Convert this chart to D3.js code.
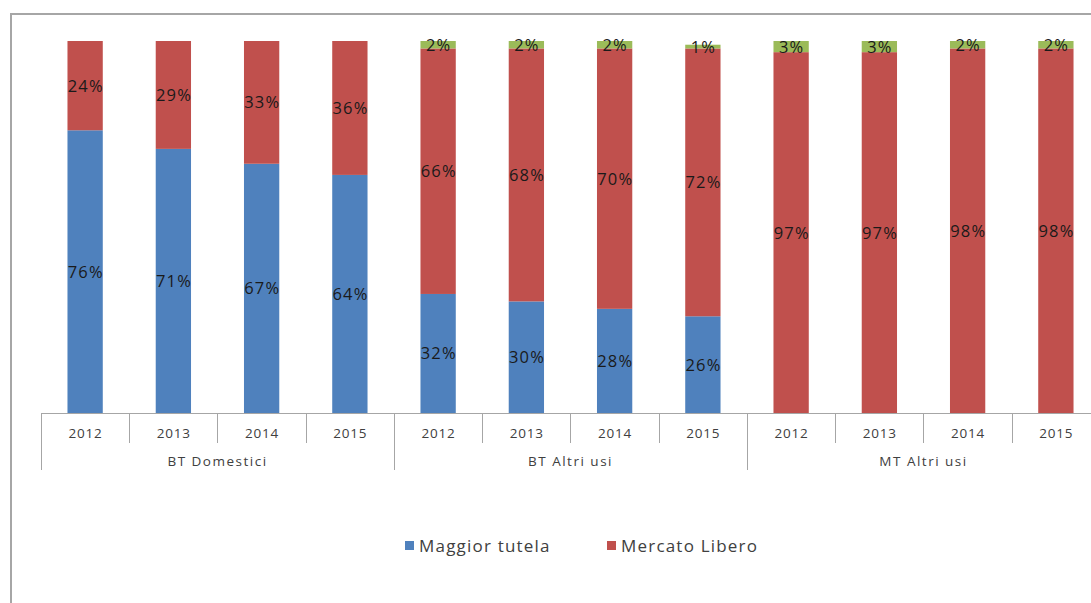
<!DOCTYPE html>
<html>
<head>
<meta charset="utf-8">
<script src="https://cdn.jsdelivr.net/npm/d3@7/dist/d3.min.js"></script>
<style>
  html, body { margin: 0; padding: 0; background: #fff; }
  svg { display: block; font-family: "Open Sans", "Noto Sans", sans-serif; }
</style>
</head>
<body>
<svg id="chart" width="1091" height="603"></svg>
<script>
// Market share by customer segment and year (percent)
const groups = ["BT Domestici", "BT Altri usi", "MT Altri usi"];
const years = ["2012", "2013", "2014", "2015"];
const maggiorTutela = [76, 71, 67, 64, 32, 30, 28, 26, 0, 0, 0, 0];
const mercatoLibero = [24, 29, 33, 36, 66, 68, 70, 72, 97, 97, 98, 98];
const altro = [0, 0, 0, 0, 2, 2, 2, 1, 3, 3, 2, 2];
const seriesNames = ["Maggior tutela", "Mercato Libero", "Altro"];
const legendNames = ["Maggior tutela", "Mercato Libero"];
const colors = ["#4f81bd", "#c0504d", "#9bbb59"];

const rows = [];
groups.forEach((g, gi) => years.forEach((yr, yi) => {
  const i = gi * years.length + yi;
  rows.push({ key: g + "|" + yr, group: g, year: yr,
    "Maggior tutela": maggiorTutela[i], "Mercato Libero": mercatoLibero[i], "Altro": altro[i] });
}));

const svg = d3.select("#chart");
const plotLeft = 41, plotTop = 41, plotBottom = 413;
const x = d3.scaleBand().domain(rows.map(d => d.key))
  .range([plotLeft, plotLeft + 12 * 88.25]).paddingInner(0.6).paddingOuter(0.3);
const y = d3.scaleLinear().domain([0, 100]).range([plotBottom, plotTop]);
const step = x.step();

// outer frame
svg.append("path").attr("d", "M11,603 L11,14 L1091,14")
  .attr("fill", "none").attr("stroke", "#a6a6a6").attr("stroke-width", 2);

const stack = d3.stack().keys(seriesNames)(rows);

const layers = svg.append("g").selectAll("g").data(stack).join("g")
  .attr("fill", (d, i) => colors[i]);
layers.selectAll("rect").data(d => d.filter(s => s[1] > s[0])).join("rect")
  .attr("x", d => x(d.data.key))
  .attr("width", x.bandwidth())
  .attr("y", d => y(d[1]))
  .attr("height", d => y(d[0]) - y(d[1]));

// value labels centred in each segment
const labels = svg.append("g").attr("font-size", 16.5).attr("fill", "#1a1a1a")
  .attr("letter-spacing", 1.2).attr("text-anchor", "middle");
stack.forEach(layer => {
  layer.filter(s => s[1] > s[0]).forEach(s => {
    const v = s[1] - s[0];
    labels.append("text")
      .attr("x", x(s.data.key) + x.bandwidth() / 2 + 0.6)
      .attr("y", (y(s[0]) + y(s[1])) / 2)
      .attr("dy", "0.36em")
      .text(v + "%");
  });
});

// category axis
const axis = svg.append("g").attr("stroke", "#a6a6a6").attr("stroke-width", 1);
axis.append("line").attr("x1", plotLeft).attr("x2", 1091)
  .attr("y1", plotBottom + 0.5).attr("y2", plotBottom + 0.5);
rows.forEach((d, i) => {
  const bx = Math.round(x(d.key) - step * 0.3) + 0.5;
  const isGroup = i % years.length === 0;
  axis.append("line").attr("x1", bx).attr("x2", bx)
    .attr("y1", plotBottom).attr("y2", isGroup ? 470 : 443);
});

const tickText = svg.append("g").attr("font-size", 13.5).attr("fill", "#404040")
  .attr("letter-spacing", 0.8).attr("text-anchor", "middle");
rows.forEach(d => {
  tickText.append("text").attr("x", x(d.key) + x.bandwidth() / 2 + 0.4).attr("y", 438).text(d.year);
});
groups.forEach((g, gi) => {
  const k0 = rows[gi * years.length].key;
  const cx = x(k0) - step * 0.3 + step * years.length / 2;
  tickText.append("text").attr("x", cx).attr("y", 466)
    .attr("letter-spacing", 1.5).text(g);
});

// legend
const legend = svg.append("g").attr("font-size", 17).attr("fill", "#404040")
  .attr("letter-spacing", 1.2);
const legendX = [405, 607];
legendNames.forEach((n, i) => {
  legend.append("rect").attr("x", legendX[i]).attr("y", 541).attr("width", 9).attr("height", 9)
    .attr("fill", colors[i]);
  legend.append("text").attr("x", legendX[i] + 14).attr("y", 551.5).text(n);
});
</script>
</body>
</html>
